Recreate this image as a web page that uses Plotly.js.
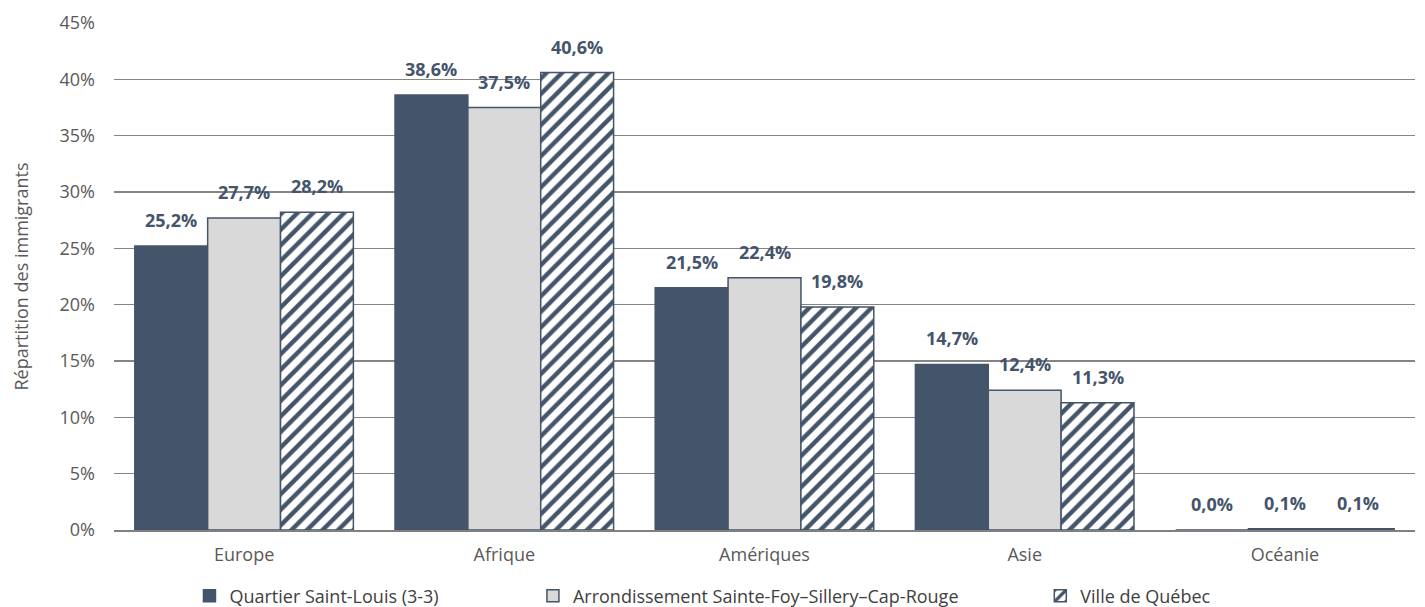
<!DOCTYPE html>
<html><head><meta charset="utf-8">
<script src="https://cdn.plot.ly/plotly-3.0.1.min.js"></script>
<style>html,body{margin:0;padding:0;background:#fff}#chart{width:1425px;height:607px}</style>
</head><body><div id="chart"></div>
<script>
const categories = ["Europe", "Afrique", "Amériques", "Asie", "Océanie"];
const seriesNames = ["Quartier Saint-Louis (3-3)", "Arrondissement Sainte-Foy–Sillery–Cap-Rouge", "Ville de Québec"];
const quartier = [25.2, 38.6, 21.5, 14.7, 0.0];
const arrondissement = [27.7, 37.5, 22.4, 12.4, 0.1];
const ville = [28.2, 40.6, 19.8, 11.3, 0.1];
const yTickVals = [0, 5, 10, 15, 20, 25, 30, 35, 40, 45];
const yTickText = yTickVals.map(v => v + "%");

const dark = "#44546A";
const fmt = v => v.toFixed(1).replace(".", ",") + "%";
const font = "'Open Sans', sans-serif";
const bargap = 0.16;
const barW = (1 - bargap) / 3;
const legendNames = ["legend", "legend2", "legend3"];

const seriesVals = [quartier, arrondissement, ville];
const markers = [
  {color: dark, line: {color: dark, width: 1.5}},
  {color: "#D9D9D9", line: {color: dark, width: 1.5}},
  {color: "#ffffff", line: {color: dark, width: 1.5},
   pattern: {shape: "/", fgcolor: dark, bgcolor: "#ffffff", size: 11, solidity: 0.4}}
];
const data = seriesVals.map((vals, j) => ({
  type: "bar", name: seriesNames[j], x: categories, y: vals,
  marker: markers[j], hoverinfo: "skip", legend: legendNames[j]
}));

const annotations = [];
seriesVals.forEach((vals, j) => {
  vals.forEach((v, i) => {
    annotations.push({
      x: i + (j - 1) * barW, y: v, xref: "x", yref: "y",
      text: fmt(v), showarrow: false, yanchor: "bottom", xanchor: "center", yshift: 12,
      font: {family: font, size: 18, color: dark, weight: "bold"}
    });
  });
});

const legendBase = {orientation: "h", y: -0.094, yanchor: "top", xanchor: "left",
  font: {family: font, size: 18, color: "#404040"}, itemwidth: 30, bgcolor: "rgba(0,0,0,0)"};
const layout = {
  width: 1425, height: 607,
  margin: {l: 114, r: 10, t: 23, b: 77, autoexpand: false},
  paper_bgcolor: "#fff", plot_bgcolor: "#fff",
  barmode: "group", bargap: bargap, bargroupgap: 0,
  font: {family: font, color: "#595959", size: 18},
  xaxis: {showgrid: false, showline: true, linecolor: "#808080", linewidth: 1.5, ticks: "",
    tickfont: {size: 18, color: "#595959"}, ticklabelstandoff: 8, range: [-0.5, 4.5]},
  yaxis: {range: [0, 45], tickvals: yTickVals, ticktext: yTickText, showgrid: true,
    gridcolor: "#858585", gridwidth: 1.5, zeroline: false, showline: false, ticks: "",
    tickfont: {size: 18, color: "#595959"}, ticklabelstandoff: 18,
    title: {text: "Répartition des immigrants", font: {size: 18, color: "#595959"}, standoff: 26}},
  annotations: annotations,
  legend: Object.assign({}, legendBase, {x: 0.058}),
  legend2: Object.assign({}, legendBase, {x: 0.322}),
  legend3: Object.assign({}, legendBase, {x: 0.712}),
  showlegend: true
};
Plotly.newPlot("chart", data, layout, {displayModeBar: false, staticPlot: true});
</script></body></html>
